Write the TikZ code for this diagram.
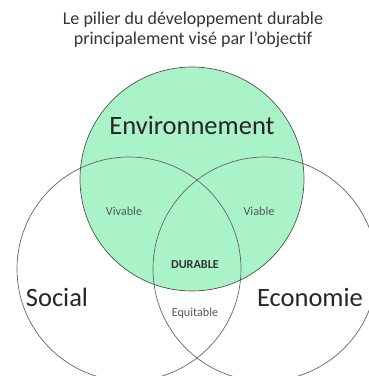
\documentclass[tikz,border=0pt]{standalone}
\usepackage{fontspec}
\setmainfont{Carlito}
\definecolor{envgreen}{RGB}{170,243,200}
\definecolor{ringgray}{RGB}{100,100,100}
\definecolor{labelgray}{RGB}{80,90,85}
\tikzset{
  ring/.style={draw=ringgray, line width=0.7pt},
  pillar/.style={font=\fontsize{26.5}{30}\selectfont, text=black!85},
  zone/.style={font=\fontsize{12.2}{14}\selectfont, text=labelgray}
}
\begin{document}
\begin{tikzpicture}[x=1pt,y=1pt]
    \useasboundingbox (0,0) rectangle (368,376);
    % green circle (environment)
    \fill[envgreen] (192,197) circle (112);
    % social and economy circles
    \draw[ring] (129,107) circle (112);
    \draw[ring] (265,107) circle (112);
    \draw[ring, draw=ringgray!80!black] (192,197) circle (112);
    % title
    \node[align=center, font=\fontsize{18}{20}\selectfont, text=black!80] (title) at (193,346)
        {Le pilier du développement durable\\principalement visé par l’objectif};
    % pillars
    \node[pillar] (env) at (192,251) {Environnement};
    \node[pillar] (soc) at (57,79) {Social};
    \node[pillar] (eco) at (310,79) {Economie};
    % intersections
    \node[zone] (viv) at (124,165) {Vivable};
    \node[zone] (via) at (259,165) {Viable};
    \node[zone, font=\fontsize{12.2}{14}\selectfont\bfseries, text=black!80] (dur) at (195,111) {DURABLE};
    \node[zone] (equ) at (195,63) {Equitable};
\end{tikzpicture}
\end{document}
